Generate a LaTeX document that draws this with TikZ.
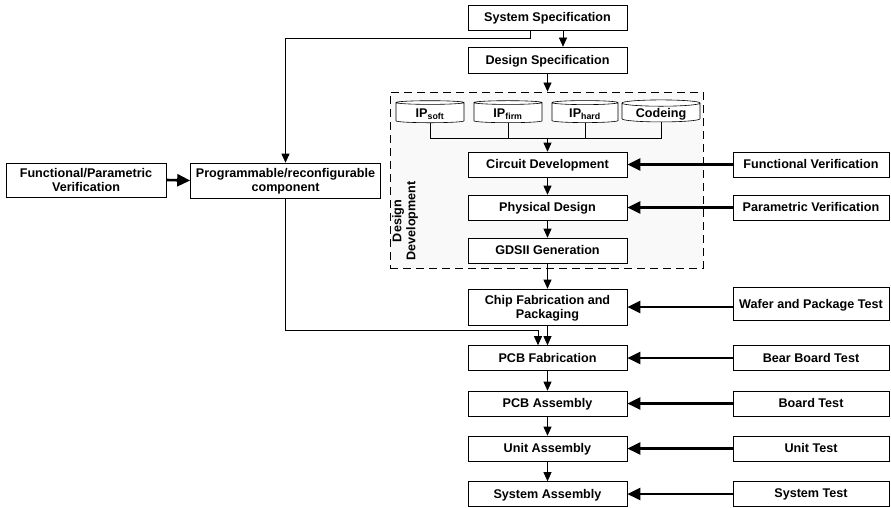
\documentclass[tikz,border=0pt]{standalone}
\usepackage{fontspec}
\setmainfont{Liberation Sans}
\usetikzlibrary{arrows.meta,shapes.geometric,calc}
\begin{document}
\begin{tikzpicture}[x=1pt,y=1pt,
  font=\fontsize{12.6}{14}\selectfont\bfseries,
  box/.style={draw,line width=0.6pt,fill=white,minimum width=159pt,minimum height=25pt,inner sep=1pt,align=center,text depth=1pt},
  rbox/.style={box,minimum width=156pt},
  cyl/.style={draw,line width=0.6pt,fill=white,cylinder,shape border rotate=90,aspect=0.12,minimum height=22pt,inner sep=1pt,text depth=0pt},
  arr/.style={line width=0.6pt,-{Triangle[length=9pt,width=8pt]}},
  thick arr/.style={line width=2.6pt,-{Triangle[length=13pt,width=12pt]}},
  ln/.style={line width=0.6pt}]
\useasboundingbox (0,0) rectangle (891,-508);
% dashed development area
\node[draw,dashed,dash pattern=on 8pt off 5pt,line width=0.8pt,fill=gray!5,minimum width=313pt,minimum height=176pt,inner sep=0pt] (devbox) at (546.5,-180) {};
\node[rotate=90,align=center,inner sep=0pt] (devlabel) at (405,-221) {Design\\Development};
% main column
\node[box] (sysspec) at (547.5,-17.5) {System Specification};
\node[box,minimum height=26pt] (desspec) at (547.5,-60) {Design Specification};
\node[box] (circ) at (547.5,-164.5) {Circuit Development};
\node[box] (phys) at (547.5,-207.5) {Physical Design};
\node[box] (gds) at (547.5,-250.5) {GDSII Generation};
\node[box,minimum height=36pt] (chip) at (547.5,-307) {Chip Fabrication and\\Packaging};
\node[box] (pcbf) at (547.5,-358) {PCB Fabrication};
\node[box] (pcba) at (547.5,-403.5) {PCB Assembly};
\node[box] (unita) at (547.5,-448.5) {Unit Assembly};
\node[box] (sysa) at (547.5,-494) {System Assembly};
% right column
\node[rbox] (func) at (811,-164.5) {Functional Verification};
\node[rbox] (param) at (811,-207.5) {Parametric Verification};
\node[rbox,minimum height=33pt] (wafer) at (811,-304) {Wafer and Package Test};
\node[rbox] (bear) at (811,-358) {Bear Board Test};
\node[rbox] (board) at (811,-403.5) {Board Test};
\node[rbox] (unitt) at (811,-448.5) {Unit Test};
\node[rbox] (syst) at (811,-494) {System Test};
% left
\node[box,minimum width=160pt,minimum height=34pt] (fpv) at (86,-180) {Functional/Parametric\\Verification};
\node[box,minimum width=190pt,minimum height=35pt] (prog) at (285.5,-180.5) {Programmable/reconfigurable\\component};
% IP cylinders
\node[cyl,minimum width=68pt] (ipsoft) at (430,-113) {IP\textsubscript{soft}};
\node[cyl,minimum width=68pt] (ipfirm) at (508,-113) {IP\textsubscript{firm}};
\node[cyl,minimum width=66pt] (iphard) at (585,-113) {IP\textsubscript{hard}};
\node[cyl,minimum width=78pt] (coding) at (661,-113) {Codeing};
\coordinate (bus) at (547.5,-138);
\draw[ln] (ipsoft.south) |- (bus);
\draw[ln] (coding.south) |- (bus);
\draw[ln] (ipfirm.south) -- (ipfirm.south |- bus);
\draw[ln] (iphard.south) -- (iphard.south |- bus);
\draw[arr] (bus) -- (circ.north);
% vertical flow
\coordinate (s1) at ($(sysspec.south)+(15.5,0)$);
\draw[arr] (s1) -- (s1 |- desspec.north);
\coordinate (s2) at ($(sysspec.south)+(-17.5,0)$);
\draw[arr] (s2) -- ++(0,-8.5) -| (prog.north);
\draw[arr] (desspec.south) -- (desspec.south |- devbox.north);
\draw[arr] (circ) -- (phys);
\draw[arr] (phys) -- (gds);
\draw[arr] (gds) -- (chip);
\draw[arr] (chip) -- (pcbf);
\coordinate (p1) at ($(pcbf.north)+(-9.5,0)$);
\draw[arr] (prog.south) -- ++(0,-132) -| (p1);
\draw[arr] (pcbf) -- (pcba);
\draw[arr] (pcba) -- (unita);
\draw[arr] (unita) -- (sysa);
% thick arrows
\draw[thick arr] (fpv.east) -- (prog.west);
\draw[thick arr] (func.west) -- (circ.east);
\draw[thick arr] (param.west) -- (phys.east);
\draw[thick arr] (wafer.west |- chip.east) -- (chip.east);
\draw[thick arr] (bear.west) -- (pcbf.east);
\draw[thick arr] (board.west) -- (pcba.east);
\draw[thick arr] (unitt.west) -- (unita.east);
\draw[thick arr] (syst.west) -- (sysa.east);
\end{tikzpicture}
\end{document}
